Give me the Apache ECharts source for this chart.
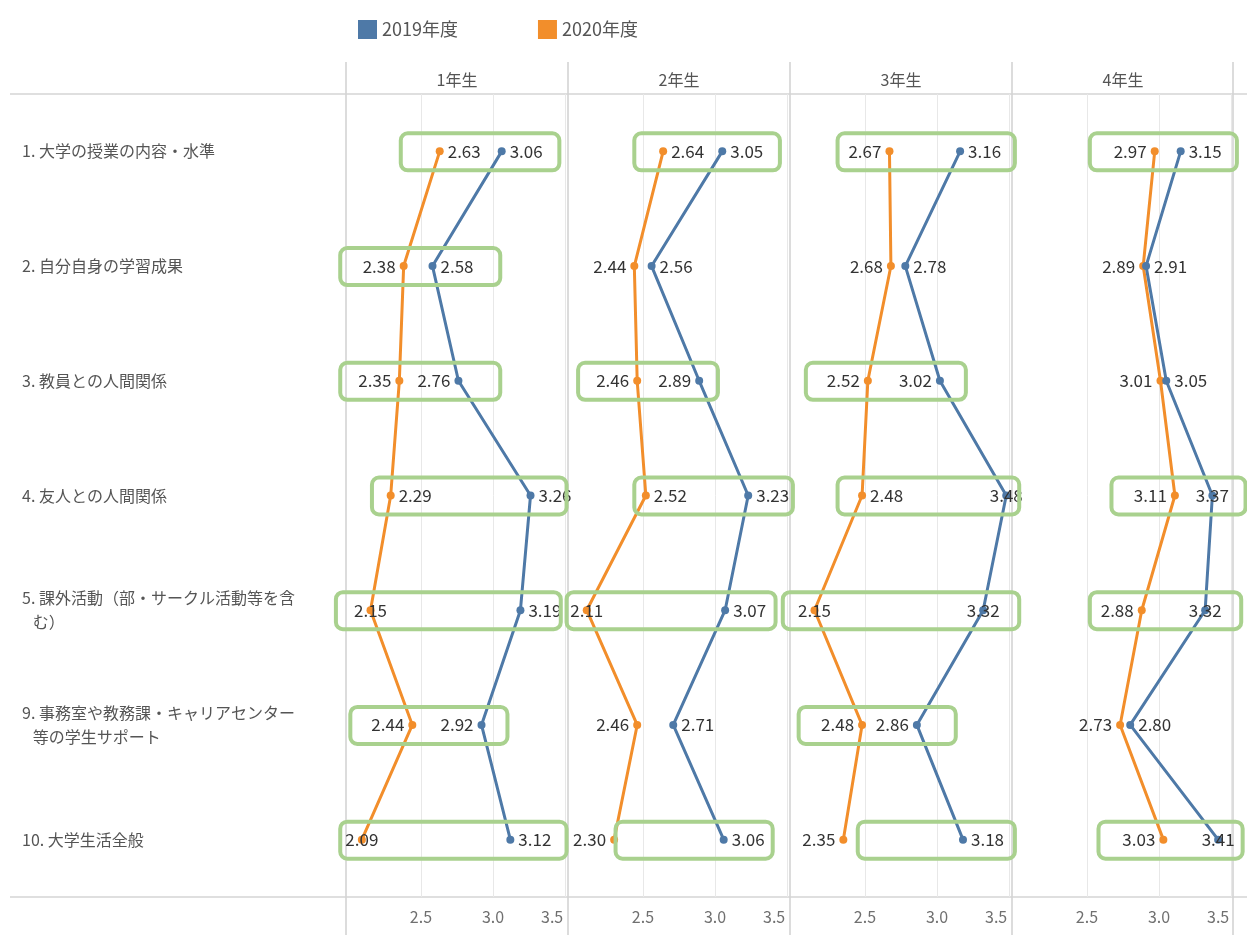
<!DOCTYPE html>
<html>
<head>
<meta charset="utf-8">
<script src="https://cdn.jsdelivr.net/npm/echarts@6/dist/echarts.min.js"></script>
<style>
  html, body { margin: 0; padding: 0; background: #fff; }
  #chart { width: 1247px; height: 935px; }
</style>
</head>
<body>
<div id="chart"></div>
<script>
// categories (rows) and panels (columns)
const categories = [
  '1. 大学の授業の内容・水準',
  '2. 自分自身の学習成果',
  '3. 教員との人間関係',
  '4. 友人との人間関係',
  '5. 課外活動（部・サークル活動等を含\n   む）',
  '9. 事務室や教務課・キャリアセンター\n   等の学生サポート',
  '10. 大学生活全般'
]
const grades = ['1年生', '2年生', '3年生', '4年生']

// values
const g1_2019 = [3.06, 2.58, 2.76, 3.26, 3.19, 2.92, 3.12]
const g1_2020 = [2.63, 2.38, 2.35, 2.29, 2.15, 2.44, 2.09]
const g2_2019 = [3.05, 2.56, 2.89, 3.23, 3.07, 2.71, 3.06]
const g2_2020 = [2.64, 2.44, 2.46, 2.52, 2.11, 2.46, 2.30]
const g3_2019 = [3.16, 2.78, 3.02, 3.48, 3.32, 2.86, 3.18]
const g3_2020 = [2.67, 2.68, 2.52, 2.48, 2.15, 2.48, 2.35]
const g4_2019 = [3.15, 2.91, 3.05, 3.37, 3.32, 2.80, 3.41]
const g4_2020 = [2.97, 2.89, 3.01, 3.11, 2.88, 2.73, 3.03]

const tickValues = [2.5, 3.0, 3.5]
const tickLabels = ['2.5', '3.0', '3.5']

// green highlight boxes: [row, from, to] in axis units
const boxes1 = [[0, 2.36, 3.46], [1, 1.94, 3.05], [2, 1.94, 3.05], [3, 2.16, 3.51], [4, 1.91, 3.47], [5, 2.01, 3.10], [6, 1.94, 3.51]]
const boxes2 = [[0, 2.44, 3.45], [2, 2.05, 3.02], [3, 2.44, 3.54], [4, 1.97, 3.42], [6, 2.31, 3.40]]
const boxes3 = [[0, 2.31, 3.54], [2, 2.09, 3.20], [3, 2.31, 3.57], [4, 1.93, 3.57], [5, 2.04, 3.13], [6, 2.45, 3.54]]
const boxes4 = [[0, 2.52, 3.54], [3, 2.67, 3.60], [4, 2.52, 3.57], [6, 2.58, 3.58]]

// label side per point (style only)
const side2019 = [
  ['right', 'right', 'left', 'right', 'right', 'left', 'right'],
  ['right', 'right', 'left', 'right', 'right', 'right', 'right'],
  ['right', 'right', 'left', 'inside', 'inside', 'left', 'right'],
  ['right', 'right', 'right', 'inside', 'inside', 'right', 'inside']
]
const side2020 = [
  ['right', 'left', 'left', 'right', 'inside', 'left', 'inside'],
  ['right', 'left', 'left', 'right', 'inside', 'left', 'left'],
  ['left', 'left', 'left', 'right', 'inside', 'left', 'left'],
  ['left', 'left', 'left', 'left', 'left', 'left', 'left']
]

const values2019 = [g1_2019, g2_2019, g3_2019, g4_2019]
const values2020 = [g1_2020, g2_2020, g3_2020, g4_2020]
const boxes = [boxes1, boxes2, boxes3, boxes4]

const FONT = 'Noto Sans CJK JP'
const BLUE = '#4e79a7'
const ORANGE = '#f28e2b'
const PANEL_LEFT = 346
const PANEL_W = 222
const GRID_TOP = 94
const GRID_BOTTOM = 897

const chart = echarts.init( document.getElementById( 'chart' ) )

const grids = []
const xAxes = []
const yAxes = []
const series = []
const graphics = []

const lineSeries = ( name, color, vals, sides, k, withGrid ) => {
  const s = {
    name : name,
    type : 'line',
    xAxisIndex : k,
    yAxisIndex : k,
    symbol : 'circle',
    symbolSize : 8,
    color : color,
    lineStyle : { width : 3, color : color },
    itemStyle : { color : color },
    label : {
      show : true,
      distance : 4,
      fontFamily : FONT,
      fontSize : 17,
      color : '#333',
      formatter : p => p.value[0].toFixed( 2 )
    },
    data : vals.map( ( v, i ) => ( { value : [v, i], label : { position : sides[i] } } ) ),
    z : 3
  }
  if ( withGrid ) {
    s.markLine = {
      silent : true,
      symbol : 'none',
      label : { show : false },
      lineStyle : { color : '#e8e8e8', width : 1, type : 'solid' },
      z : 1,
      data : tickValues.map( t => ( { xAxis : t } ) )
    }
  }
  return s
}

grades.forEach( ( g, k ) => {
  const left = PANEL_LEFT + k * PANEL_W
  grids.push( { left : left, width : PANEL_W, top : GRID_TOP, height : GRID_BOTTOM - GRID_TOP } )
  xAxes.push( {
    type : 'value',
    gridIndex : k,
    min : 1.98,
    max : 3.52,
    interval : 0.02,
    axisLine : { show : false },
    axisTick : { show : false },
    splitLine : { show : false },
    axisLabel : {
      margin : 12,
      fontFamily : FONT,
      fontSize : 16,
      color : '#707070',
      formatter : v => {
        const idx = tickValues.findIndex( t => Math.abs( t - v ) < 1e-6 )
        if ( idx < 0 ) return ''
        return idx === tickValues.length - 1 ? '{r|' + tickLabels[idx] + '}' : tickLabels[idx]
      },
      rich : { r : { fontFamily : FONT, fontSize : 16, color : '#707070', padding : [0, 26, 0, 0] } }
    }
  } )
  yAxes.push( {
    type : 'category',
    gridIndex : k,
    inverse : true,
    data : categories,
    axisLine : { show : false },
    axisTick : { show : false },
    axisLabel : {
      show : k === 0,
      align : 'left',
      margin : PANEL_LEFT - 22,
      fontFamily : FONT,
      fontSize : 16,
      lineHeight : 24,
      color : '#555'
    }
  } )
  series.push( lineSeries( '2020年度', ORANGE, values2020[k], side2020[k], k, true ) )
  series.push( lineSeries( '2019年度', BLUE, values2019[k], side2019[k], k, false ) )
  series.push( {
    type : 'custom',
    xAxisIndex : k,
    yAxisIndex : k,
    clip : false,
    silent : true,
    z : 5,
    dimensions : ['row', 'from', 'to'],
    encode : { y : 0, x : [1, 2] },
    renderItem : ( params, api ) => {
      const p1 = api.coord( [api.value( 1 ), api.value( 0 )] )
      const p2 = api.coord( [api.value( 2 ), api.value( 0 )] )
      return {
        type : 'rect',
        shape : { x : p1[0], y : p1[1] - 18, width : p2[0] - p1[0], height : 37, r : 7 },
        style : { fill : 'none', stroke : '#a9d18e', lineWidth : 4 }
      }
    },
    data : boxes[k]
  } )
  // panel header
  graphics.push( {
    type : 'text',
    x : left + PANEL_W / 2,
    y : 80,
    style : { text : g, fontFamily : FONT, fontSize : 16, fill : '#555', align : 'center', verticalAlign : 'middle' }
  } )
} )

// frame lines
for ( let k = 0; k <= grades.length; k++ ) {
  const x = PANEL_LEFT + k * PANEL_W + ( k === grades.length ? -1 : 0 )
  graphics.push( {
    type : 'line',
    shape : { x1 : x, y1 : 62, x2 : x, y2 : 935 },
    style : { stroke : '#d0d0d0', lineWidth : 1.5 },
    z : 0
  } )
}
graphics.push( { type : 'line', shape : { x1 : 10, y1 : GRID_TOP, x2 : 1247, y2 : GRID_TOP }, style : { stroke : '#d4d4d4', lineWidth : 1.5 }, z : 0 } )
graphics.push( { type : 'line', shape : { x1 : 10, y1 : GRID_BOTTOM, x2 : 1247, y2 : GRID_BOTTOM }, style : { stroke : '#d4d4d4', lineWidth : 1.5 }, z : 0 } )

chart.setOption( {
  backgroundColor : '#fff',
  animation : false,
  legend : {
    top : 15,
    left : 353,
    icon : 'rect',
    itemWidth : 19,
    itemHeight : 19,
    itemGap : 80,
    data : ['2019年度', '2020年度'],
    textStyle : { fontFamily : FONT, fontSize : 18, color : '#555' }
  },
  grid : grids,
  xAxis : xAxes,
  yAxis : yAxes,
  series : series,
  graphic : graphics
} )
</script>
</body>
</html>
